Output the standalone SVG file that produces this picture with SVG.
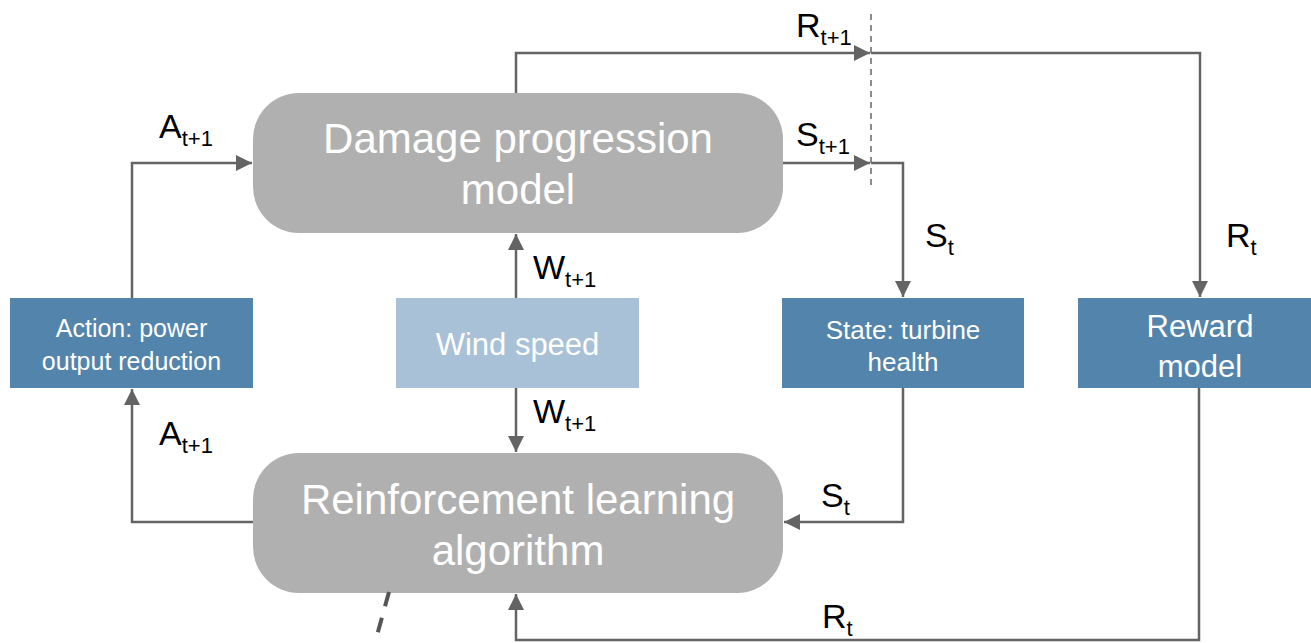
<svg xmlns="http://www.w3.org/2000/svg" width="1311" height="643" viewBox="0 0 1311 643">
  <style>
    .proc { fill: #b0b0b0; }
    .proc-text { font-family: "Liberation Sans", Arial, sans-serif; font-size: 42px; fill: #ffffff; text-anchor: middle; }
    .box { fill: #5384ab; }
    .box-light { fill: #a9c1d6; }
    .box-text { font-family: "Liberation Sans", Arial, sans-serif; fill: #ffffff; text-anchor: middle; }
    .wire { fill: none; stroke: #646464; stroke-width: 2.5; }
    .lbl { font-family: "Liberation Sans", Arial, sans-serif; font-size: 34px; fill: #000000; }
    .sub { font-size: 22px; }
  </style>
  <defs>
    <marker id="arrow" markerUnits="userSpaceOnUse" markerWidth="16" markerHeight="16" viewBox="0 0 16 16" refX="16" refY="8" orient="auto">
      <path d="M0,0 L16,8 L0,16 Z" fill="#646464"/>
    </marker>
  </defs>

  <!-- process nodes -->
  <g id="damage-model">
    <rect class="proc" x="253" y="93" width="530" height="140" rx="46" ry="46"/>
    <text class="proc-text" x="518" y="153">Damage progression</text>
    <text class="proc-text" x="518" y="204">model</text>
  </g>
  <g id="rl-algorithm">
    <rect class="proc" x="253" y="453" width="530" height="140" rx="46" ry="46"/>
    <text class="proc-text" x="518" y="514">Reinforcement learning</text>
    <text class="proc-text" x="518" y="565">algorithm</text>
  </g>

  <!-- rectangular nodes -->
  <g id="action">
    <rect class="box" x="10" y="298" width="243" height="90"/>
    <text class="box-text" x="131.5" y="337" font-size="25">Action: power</text>
    <text class="box-text" x="131.5" y="370" font-size="25">output reduction</text>
  </g>
  <g id="wind-speed">
    <rect class="box-light" x="396" y="298" width="243" height="90"/>
    <text class="box-text" x="517.5" y="355" font-size="31">Wind speed</text>
  </g>
  <g id="state">
    <rect class="box" x="782" y="298" width="242" height="90"/>
    <text class="box-text" x="903" y="339" font-size="26">State: turbine</text>
    <text class="box-text" x="903" y="371" font-size="26">health</text>
  </g>
  <g id="reward">
    <rect class="box" x="1078" y="298" width="233" height="90"/>
    <text class="box-text" x="1200" y="337" font-size="31">Reward</text>
    <text class="box-text" x="1200" y="377" font-size="31">model</text>
  </g>

  <!-- connectors -->
  <g id="connectors">
    <!-- action to damage model -->
    <polyline class="wire" points="132,298 132,163 252,163" marker-end="url(#arrow)"/>
    <!-- rl algorithm to action -->
    <polyline class="wire" points="253,522 132,522 132,389" marker-end="url(#arrow)"/>
    <!-- wind speed to both models -->
    <line class="wire" x1="516" y1="298" x2="516" y2="234" marker-end="url(#arrow)"/>
    <line class="wire" x1="516" y1="388" x2="516" y2="452" marker-end="url(#arrow)"/>
    <!-- reward: damage model to time step boundary, then to reward model -->
    <polyline class="wire" points="516,93 516,53 870,53" marker-end="url(#arrow)"/>
    <polyline class="wire" points="871,53 1200,53 1200,297" marker-end="url(#arrow)"/>
    <!-- state: damage model to time step boundary, then to state node -->
    <line class="wire" x1="783" y1="163" x2="870" y2="163" marker-end="url(#arrow)"/>
    <polyline class="wire" points="871,163 903,163 903,297" marker-end="url(#arrow)"/>
    <!-- state back to rl algorithm -->
    <polyline class="wire" points="903,388 903,522 784,522" marker-end="url(#arrow)"/>
    <!-- reward back to rl algorithm -->
    <polyline class="wire" points="1199,388 1199,640 516,640 516,594" marker-end="url(#arrow)"/>
    <!-- time step boundary -->
    <line x1="871" y1="14" x2="871" y2="190" stroke="#707070" stroke-width="1.6" stroke-dasharray="6,5"/>
    <!-- dashed curve leaving below -->
    <path d="M389,592 Q382,617 375,643" fill="none" stroke="#555555" stroke-width="4" stroke-dasharray="15,12"/>
  </g>

  <!-- connector labels -->
  <g id="labels">
    <text class="lbl" x="796" y="37">R<tspan class="sub" dy="8">t+1</tspan></text>
    <text class="lbl" x="796" y="146">S<tspan class="sub" dy="8">t+1</tspan></text>
    <text class="lbl" x="159" y="138">A<tspan class="sub" dy="8">t+1</tspan></text>
    <text class="lbl" x="159" y="445">A<tspan class="sub" dy="8">t+1</tspan></text>
    <text class="lbl" x="533" y="279">W<tspan class="sub" dy="8">t+1</tspan></text>
    <text class="lbl" x="533" y="423">W<tspan class="sub" dy="8">t+1</tspan></text>
    <text class="lbl" x="925" y="247">S<tspan class="sub" dy="8">t</tspan></text>
    <text class="lbl" x="1226" y="247">R<tspan class="sub" dy="8">t</tspan></text>
    <text class="lbl" x="821" y="507">S<tspan class="sub" dy="8">t</tspan></text>
    <text class="lbl" x="822" y="628">R<tspan class="sub" dy="8">t</tspan></text>
  </g>
</svg>
